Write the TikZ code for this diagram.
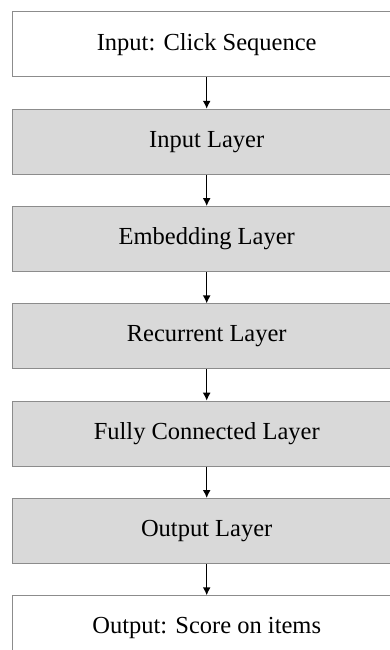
\documentclass[tikz,border=0pt]{standalone}
\usepackage{fontspec}
\setmainfont{Liberation Serif}
\usetikzlibrary{positioning}
\usetikzlibrary{arrows.meta}

\tikzset{
  layerbox/.style={draw=gray!90, line width=1pt, rectangle, minimum width=389pt, minimum height=65pt, inner sep=0pt, font=\fontsize{24.5}{28}\selectfont},
  iobox/.style={layerbox, fill=white},
  hidden/.style={layerbox, fill=gray!30},
  flow/.style={line width=1.4pt, -{Latex[length=8pt,width=8pt]}}
}

\begin{document}
\begin{tikzpicture}[x=1pt, y=1pt, node distance=31.3pt]
\clip (0,0) rectangle (390,-650);

\node[iobox] (Input) at (206.7,-44.5) {Input: Click Sequence};
\node[hidden, below=of Input] (InputLayer) {Input Layer};
\node[hidden, below=of InputLayer] (Embedding) {Embedding Layer};
\node[hidden, below=of Embedding] (Recurrent) {Recurrent Layer};
\node[hidden, below=of Recurrent] (FullyConn) {Fully Connected Layer};
\node[hidden, below=of FullyConn] (OutputLayer) {Output Layer};
\node[iobox, below=of OutputLayer] (Output) {Output: Score on items};

\draw[flow] (Input) -- (InputLayer);
\draw[flow] (InputLayer) -- (Embedding);
\draw[flow] (Embedding) -- (Recurrent);
\draw[flow] (Recurrent) -- (FullyConn);
\draw[flow] (FullyConn) -- (OutputLayer);
\draw[flow] (OutputLayer) -- (Output);
\end{tikzpicture}
\end{document}
